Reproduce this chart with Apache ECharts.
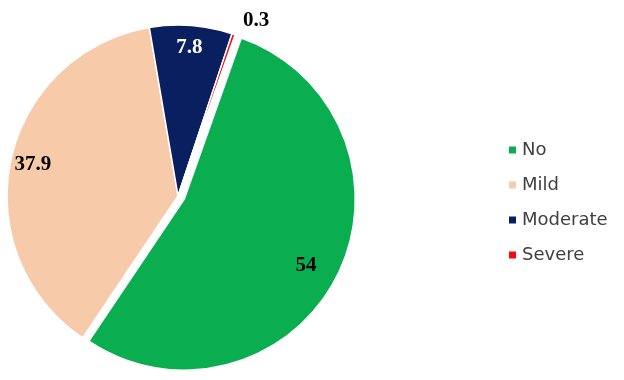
<!DOCTYPE html>
<html>
<head>
<meta charset="utf-8">
<script src="https://cdn.jsdelivr.net/npm/echarts@6/dist/echarts.min.js"></script>
<style>
  html, body { margin: 0; padding: 0; background: #fff; }
  #chart { width: 624px; height: 380px; }
</style>
</head>
<body>
<div id="chart"></div>
<script>
// 数据
var categories = ['No', 'Mild', 'Moderate', 'Severe']
var values = [54, 37.9, 7.8, 0.3]
var labels = ['54', '37.9', '7.8', '0.3']
var colors = ['#0AAD50', '#F7CAAA', '#0A1F5F', '#F20D10']

var myChart = echarts.init(document.getElementById('chart'))

var center = [178, 196]
var startAngle = 70.5

var pieData = categories.map(function (name, i) {
  return {
    name: name,
    value: values[i],
    selected: i === 0,
    itemStyle: { color: colors[i] }
  }
})

// 标签层（透明）
var labelData = categories.map(function (name, i) {
  var item = {
    name: name,
    value: values[i],
    selected: i === 0,
    label: {
      show: true,
      formatter: labels[i],
      color: i === 2 ? '#fff' : '#000'
    }
  }
  if (i === 0) {
    // 稍微往左下挪一点
    item.label.padding = [28, 22, 0, 0]
  }
  if (i === 3) {
    item.label.position = 'outside'
  }
  return item
})

var option = {
  animation: false,
  legend: {
    orient: 'vertical',
    left: 502,
    top: 136,
    icon: 'rect',
    itemWidth: 9,
    itemHeight: 9,
    itemGap: 17,
    data: categories,
    textStyle: {
      color: '#404040',
      fontSize: 18,
      fontFamily: 'DejaVu Sans'
    }
  },
  series: [
    {
      type: 'pie',
      center: center,
      radius: [0, 171],
      startAngle: startAngle,
      clockwise: true,
      selectedMode: 'single',
      selectedOffset: 7,
      itemStyle: {
        borderColor: '#fff',
        borderWidth: 1.5
      },
      label: { show: false },
      labelLine: { show: false },
      emphasis: { disabled: true },
      data: pieData
    },
    {
      type: 'pie',
      center: center,
      radius: [120, 171],
      startAngle: startAngle,
      clockwise: true,
      selectedMode: 'single',
      selectedOffset: 7,
      silent: true,
      legendHoverLink: false,
      itemStyle: { color: 'rgba(0,0,0,0)' },
      label: {
        show: true,
        position: 'inside',
        fontFamily: 'Liberation Serif',
        fontWeight: 'bold',
        fontSize: 21
      },
      labelLine: { show: false, length: 14, length2: 0 },
      emphasis: { disabled: true },
      data: labelData
    }
  ]
}

myChart.setOption(option)
</script>
</body>
</html>
